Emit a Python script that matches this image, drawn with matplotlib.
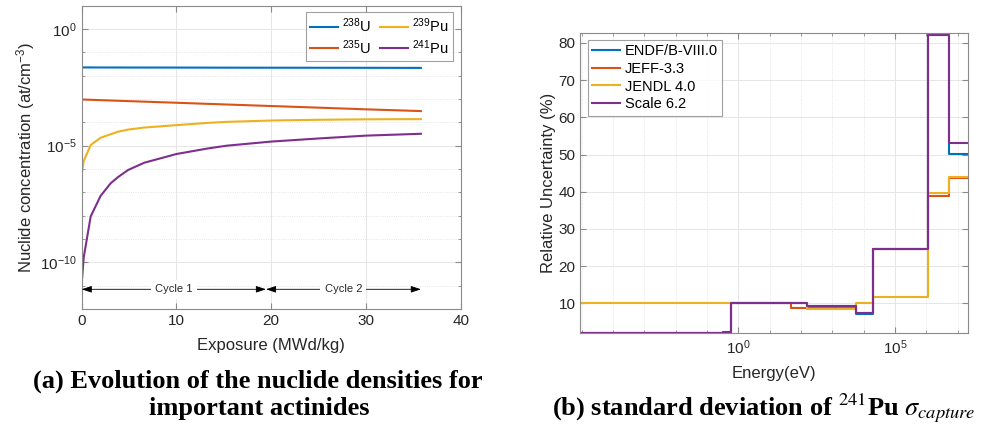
import numpy as np
import matplotlib
matplotlib.use("Agg")
import matplotlib.pyplot as plt
from matplotlib.ticker import FixedLocator, NullFormatter

plt.rcParams['font.family'] = ['Liberation Sans', 'DejaVu Sans']
plt.rcParams['mathtext.fontset'] = 'custom'
plt.rcParams['mathtext.rm'] = 'Liberation Sans'
plt.rcParams['mathtext.it'] = 'Liberation Sans:italic'
plt.rcParams['mathtext.bf'] = 'Liberation Sans:bold'

# ---------------- data: panel (a) ----------------
exposure = [0.05, 0.21, 0.95, 2.0, 3.06, 3.83, 4.9, 6.6, 10.0, 13.3, 15.3, 20.0, 25.0, 30.0, 35.8]
u238 = [2.26e-2, 2.26e-2, 2.26e-2, 2.25e-2, 2.25e-2, 2.25e-2, 2.24e-2, 2.24e-2, 2.23e-2,
        2.22e-2, 2.21e-2, 2.20e-2, 2.19e-2, 2.18e-2, 2.16e-2]
u235 = [9.5e-4, 9.5e-4, 9.27e-4, 8.95e-4, 8.65e-4, 8.44e-4, 8.15e-4, 7.72e-4, 6.92e-4,
        6.22e-4, 5.83e-4, 5.01e-4, 4.27e-4, 3.62e-4, 3.05e-4]
pu239 = [7.8e-7, 2.2e-6, 1.07e-5, 2.19e-5, 3.1e-5, 3.98e-5, 4.9e-5, 6.0e-5, 7.6e-5,
         9.5e-5, 1.05e-4, 1.2e-4, 1.29e-4, 1.35e-4, 1.38e-4]
pu241 = [2.2e-11, 1.6e-10, 9.3e-9, 7.1e-8, 2.45e-7, 4.5e-7, 9.1e-7, 1.86e-6, 4.4e-6,
         7.6e-6, 1.0e-5, 1.5e-5, 2.04e-5, 2.7e-5, 3.24e-5]
nuclide_labels = ['$^{238}$U', '$^{235}$U', '$^{239}$Pu', '$^{241}$Pu']
cycle_bounds = [0.0, 19.45, 35.8]
cycle_labels = ['Cycle 1', 'Cycle 2']
cycle_level = 7e-12

# ---------------- data: panel (b) ----------------
energy_edges = [9e-6, 0.33, 0.58, 47.0, 150.0, 5700.0, 2.0e4, 1.1e6, 5.4e6, 2.1e7]
endf = [2.0, 2.1, 10.0, 10.0, 9.2, 7.2, 24.6, 82.2, 50.1]
jeff = [2.0, 2.0, 10.0, 8.9, 8.7, 7.4, 24.7, 38.9, 43.7]
jendl = [10.0, 10.0, 10.0, 10.0, 8.5, 10.0, 11.8, 39.6, 44.1]
scale = [2.0, 2.3, 10.0, 10.0, 9.3, 7.5, 24.7, 82.2, 53.0]
library_labels = ['ENDF/B-VIII.0', 'JEFF-3.3', 'JENDL 4.0', 'Scale 6.2']

colors = ['#0072BD', '#D95319', '#EDB120', '#7E2F8E']
spine_c = '#8a8a8a'
text_c = '#262626'

fig = plt.figure(figsize=(9.89, 4.29), dpi=100)


def style_axes(ax):
    for s in ax.spines.values():
        s.set_color(spine_c)
        s.set_linewidth(0.8)
    ax.tick_params(which='both', direction='in', top=True, right=True,
                   color=spine_c, labelcolor=text_c, labelsize=11)
    ax.tick_params(which='major', length=4)
    ax.tick_params(which='minor', length=2.5)
    ax.set_axisbelow(True)


# ---------------- panel (a) ----------------
ax1 = fig.add_axes([0.0826, 0.2797, 0.3832, 0.707])
for vals, c, lab in zip([u238, u235, pu239, pu241], colors, nuclide_labels):
    ax1.plot(exposure, vals, color=c, lw=1.5, label=lab)
ax1.set_yscale('log')
ax1.set_xlim(0, 40)
ax1.set_ylim(1e-12, 10)
ax1.set_xticks([0, 10, 20, 30, 40])
ax1.yaxis.set_major_locator(FixedLocator([1e-10, 1e-5, 1e0]))
ax1.yaxis.set_minor_locator(FixedLocator([10.0 ** k for k in range(-12, 2)]))
ax1.yaxis.set_minor_formatter(NullFormatter())
ax1.set_yticklabels(['$10^{-10}$', '$10^{-5}$', '$10^{0}$'])
style_axes(ax1)
ax1.grid(True, which='major', color='#e6e6e6', lw=0.7, ls='-')
ax1.grid(True, which='minor', axis='y', color='#dedede', lw=0.6, ls=':')
ax1.set_xlabel('Exposure (MWd/kg)', fontsize=12, color=text_c, labelpad=7)
ax1.set_ylabel('Nuclide concentration (at/cm$^{-3}$)', fontsize=12, color=text_c, labelpad=2)

for i, lab in enumerate(cycle_labels):
    x0, x1 = cycle_bounds[i], cycle_bounds[i + 1]
    ax1.annotate('', xy=(x1, cycle_level), xytext=(x0, cycle_level),
                 arrowprops=dict(arrowstyle='<|-|>,head_length=0.6,head_width=0.2',
                                 color='black', lw=0.6, shrinkA=0, shrinkB=0))
    ax1.text((x0 + x1) / 2, cycle_level, lab, ha='center', va='center', fontsize=8,
             color=text_c, bbox=dict(facecolor='white', edgecolor='none', pad=3))

leg1 = ax1.legend(loc='upper right', bbox_to_anchor=(0.98, 0.979), borderaxespad=0,
                  ncol=2, fontsize=10.5, frameon=True, fancybox=False, edgecolor='#8a8a8a',
                  handlelength=1.9, handletextpad=0.3, columnspacing=0.6,
                  borderpad=0.3, labelspacing=0.2)
leg1.get_frame().set_linewidth(0.8)

# ---------------- panel (b) ----------------
ax2 = fig.add_axes([0.5868, 0.2231, 0.3917, 0.6993])
for vals, c, lab in zip([endf, jeff, jendl, scale], colors, library_labels):
    ax2.step(energy_edges, list(vals) + [vals[-1]], where='post', color=c, lw=1.5, label=lab)
ax2.set_xscale('log')
ax2.set_xlim(energy_edges[0], energy_edges[-1])
ax2.set_ylim(1.97, 82.6)
ax2.xaxis.set_major_locator(FixedLocator([1e0, 1e5]))
ax2.xaxis.set_minor_locator(FixedLocator([10.0 ** k for k in range(-5, 8)]))
ax2.xaxis.set_minor_formatter(NullFormatter())
ax2.set_xticklabels(['$10^{0}$', '$10^{5}$'])
ax2.set_yticks([10, 20, 30, 40, 50, 60, 70, 80])
style_axes(ax2)
ax2.grid(True, which='major', color='#e6e6e6', lw=0.7, ls='-')
ax2.grid(True, which='minor', axis='x', color='#dedede', lw=0.6, ls=':')
ax2.set_xlabel('Energy(eV)', fontsize=12, color=text_c, labelpad=7)
ax2.set_ylabel('Relative Uncertainty (%)', fontsize=12, color=text_c, labelpad=2)
leg2 = ax2.legend(loc='upper left', bbox_to_anchor=(0.0199, 0.978), borderaxespad=0,
                  fontsize=10.5, frameon=True, fancybox=False, edgecolor='#8a8a8a',
                  handlelength=1.9, handletextpad=0.3, borderpad=0.3, labelspacing=0.25)
leg2.get_frame().set_linewidth(0.8)

# ---------------- captions ----------------
cap_font = dict(family=['Liberation Serif', 'DejaVu Serif'], weight='bold', fontsize=19,
                color='black', ha='center', va='center')
fig.text(258 / 989, 1 - 381 / 429, '(a) Evolution of the nuclide densities for', **cap_font)
fig.text(259 / 989, 1 - 409 / 429, 'important actinides', **cap_font)
fig.text(764 / 989, 1 - 408 / 429,
         r'(b) standard deviation of $^{241}$Pu $\sigma_{capture}$',
         math_fontfamily='stix', **cap_font)

fig.savefig('out.png', dpi=100)
